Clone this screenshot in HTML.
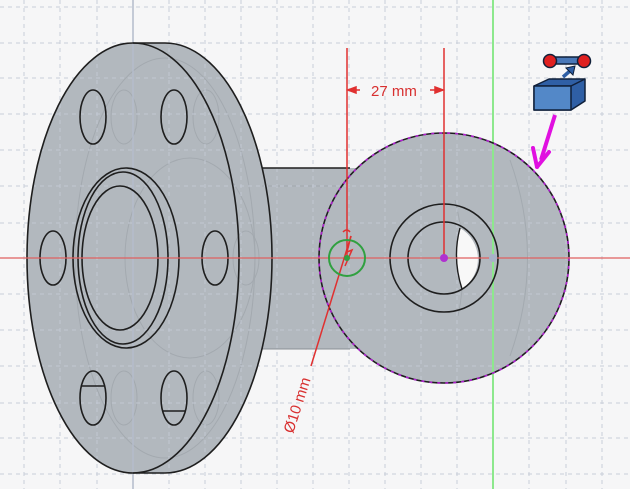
<!DOCTYPE html>
<html><head><style>html,body{margin:0;padding:0;background:#f6f6f7;}svg{display:block}</style></head>
<body>
<svg width="630" height="489" viewBox="0 0 630 489" xmlns="http://www.w3.org/2000/svg">
<rect width="630" height="489" fill="#f6f6f7"/>
<g fill="#b2b8be">
<rect x="240" y="168" width="140" height="181" />
<path d="M133,43 L165,43 A107,215 0 0 1 165,473 L133,473 A106,215 0 0 1 133,43 Z"/>
<circle cx="444" cy="258" r="125"/>
</g>
<g fill="none" stroke="#9aa0a6" stroke-width="1" opacity="0.6">
<ellipse cx="165" cy="258" rx="90" ry="200"/>
<ellipse cx="190" cy="258" rx="65" ry="100"/>
<ellipse cx="124" cy="117" rx="13" ry="27"/>
<ellipse cx="206" cy="117" rx="13" ry="27"/>
<ellipse cx="124" cy="398" rx="13" ry="27"/>
<ellipse cx="206" cy="398" rx="13" ry="27"/>
<ellipse cx="246" cy="258" rx="13" ry="27"/>
<line x1="262" y1="186" x2="350" y2="186"/>
<path d="M455,200 Q470,258 458,316"/>
<path d="M510,160 Q545,258 510,356"/>
</g>
<g stroke="#c4cad6" stroke-width="1" stroke-dasharray="4,4" opacity="0.9">
<line x1="24" y1="0" x2="24" y2="489"/><line x1="60" y1="0" x2="60" y2="489"/><line x1="97" y1="0" x2="97" y2="489"/>
<line x1="169" y1="0" x2="169" y2="489"/><line x1="205" y1="0" x2="205" y2="489"/><line x1="241" y1="0" x2="241" y2="489"/>
<line x1="277" y1="0" x2="277" y2="489"/><line x1="313" y1="0" x2="313" y2="489"/><line x1="349" y1="0" x2="349" y2="489"/>
<line x1="385" y1="0" x2="385" y2="489"/><line x1="421" y1="0" x2="421" y2="489"/><line x1="457" y1="0" x2="457" y2="489"/>
<line x1="529" y1="0" x2="529" y2="489"/><line x1="566" y1="0" x2="566" y2="489"/><line x1="602" y1="0" x2="602" y2="489"/>
<line x1="0" y1="7" x2="630" y2="7"/><line x1="0" y1="43" x2="630" y2="43"/><line x1="0" y1="78" x2="630" y2="78"/><line x1="0" y1="114" x2="630" y2="114"/>
<line x1="0" y1="150" x2="630" y2="150"/><line x1="0" y1="186" x2="630" y2="186"/><line x1="0" y1="223" x2="630" y2="223"/>
<line x1="0" y1="294" x2="630" y2="294"/><line x1="0" y1="330" x2="630" y2="330"/><line x1="0" y1="366" x2="630" y2="366"/>
<line x1="0" y1="403" x2="630" y2="403"/><line x1="0" y1="438" x2="630" y2="438"/><line x1="0" y1="474" x2="630" y2="474"/>
</g>
<line x1="133" y1="0" x2="133" y2="489" stroke="#b4bccb" stroke-width="1.5"/>
<line x1="493" y1="0" x2="493" y2="489" stroke="#8de88d" stroke-width="2"/>
<g fill="none" stroke="#1e1e1e" stroke-width="1.6">
<line x1="262" y1="168" x2="350" y2="168"/>
<line x1="262" y1="349" x2="350" y2="349" stroke="#8a9096" stroke-width="1"/>
<path d="M133,43 L165,43 A107,215 0 0 1 165,473 L133,473"/>
<ellipse cx="133" cy="258" rx="106" ry="215"/>
<ellipse cx="93" cy="117" rx="13" ry="27"/>
<ellipse cx="174" cy="117" rx="13" ry="27"/>
<ellipse cx="53" cy="258" rx="13" ry="27"/>
<ellipse cx="215" cy="258" rx="13" ry="27"/>
<ellipse cx="93" cy="398" rx="13" ry="27"/>
<ellipse cx="174" cy="398" rx="13" ry="27"/>
<line x1="82" y1="386" x2="105" y2="386"/>
<line x1="162" y1="411" x2="186" y2="411"/>
<ellipse cx="126" cy="258" rx="53" ry="90"/>
<ellipse cx="123" cy="258" rx="45" ry="86"/>
<ellipse cx="120" cy="258" rx="38" ry="72"/>
</g>
<circle cx="444" cy="258" r="125" fill="none" stroke="#1e1e1e" stroke-width="1.6"/>
<circle cx="444" cy="258" r="125" fill="none" stroke="#b020d0" stroke-width="1.6" stroke-dasharray="3,5"/>
<circle cx="444" cy="258" r="54" fill="none" stroke="#1e1e1e" stroke-width="1.6"/>
<path d="M460,228 A36,36 0 0 1 462,289 Q452,258 460,228 Z" fill="#f8f8f8"/>
<circle cx="444" cy="258" r="36" fill="none" stroke="#1e1e1e" stroke-width="1.6"/>
<path d="M460,228 Q452,258 462,289" fill="none" stroke="#1e1e1e" stroke-width="1.4"/>
<line x1="0" y1="258" x2="630" y2="258" stroke="#e06060" stroke-width="1.2"/>
<g stroke="#e03030" stroke-width="1.5" fill="#e03030">
<line x1="347" y1="48" x2="347" y2="258"/>
<line x1="444" y1="48" x2="444" y2="258"/>
<line x1="348" y1="90" x2="360" y2="90"/><path d="M348,90 L356,87 L356,93 Z"/>
<line x1="430" y1="90" x2="443" y2="90"/><path d="M443,90 L435,87 L435,93 Z"/>
<line x1="351" y1="236" x2="311" y2="366"/>
<path d="M351,236 L347,252 L352,250 L345,266" fill="none"/>
<path d="M343,232 Q347,228 350,232" fill="none"/>
</g>
<text x="371" y="96" font-family="Liberation Sans, sans-serif" font-size="15" fill="#d83030">27 mm</text>
<text transform="translate(293,434) rotate(-72)" font-family="Liberation Sans, sans-serif" font-size="15" fill="#d83030">Ø10 mm</text>
<circle cx="347" cy="258" r="18" fill="none" stroke="#30a040" stroke-width="2"/>
<circle cx="347" cy="258" r="3" fill="#30a040"/>
<circle cx="444" cy="258" r="4" fill="#b030d0"/>
<circle cx="493" cy="258" r="4" fill="#a8b2c8"/>
<g stroke="#10203a" stroke-width="1.5" stroke-linejoin="round">
<rect x="550" y="57" width="33" height="7" fill="#4a78b8"/>
<circle cx="550" cy="61" r="6.5" fill="#e02020"/>
<circle cx="584" cy="61" r="6.5" fill="#e02020"/>
<path d="M534,86 L549,79 L585,79 L585,101 L571,110 L534,110 Z" fill="#2f5fa5"/>
<path d="M534,86 L571,86 L585,79" fill="none"/>
<rect x="534" y="86" width="37" height="24" fill="#5388c8"/>
<path d="M563,77 L571,70" stroke="#2f5fa5" stroke-width="3.5"/>
</g>
<path d="M566,68 L575,66 L573,75 Z" fill="#2f5fa5" stroke="#10203a" stroke-width="1"/>
<line x1="555" y1="115" x2="541" y2="160" stroke="#e010e0" stroke-width="4"/>
<path d="M537,167 L533,148 M537,167 L549,152" stroke="#e010e0" stroke-width="4" fill="none" stroke-linecap="round"/>
</svg>
</body></html>
